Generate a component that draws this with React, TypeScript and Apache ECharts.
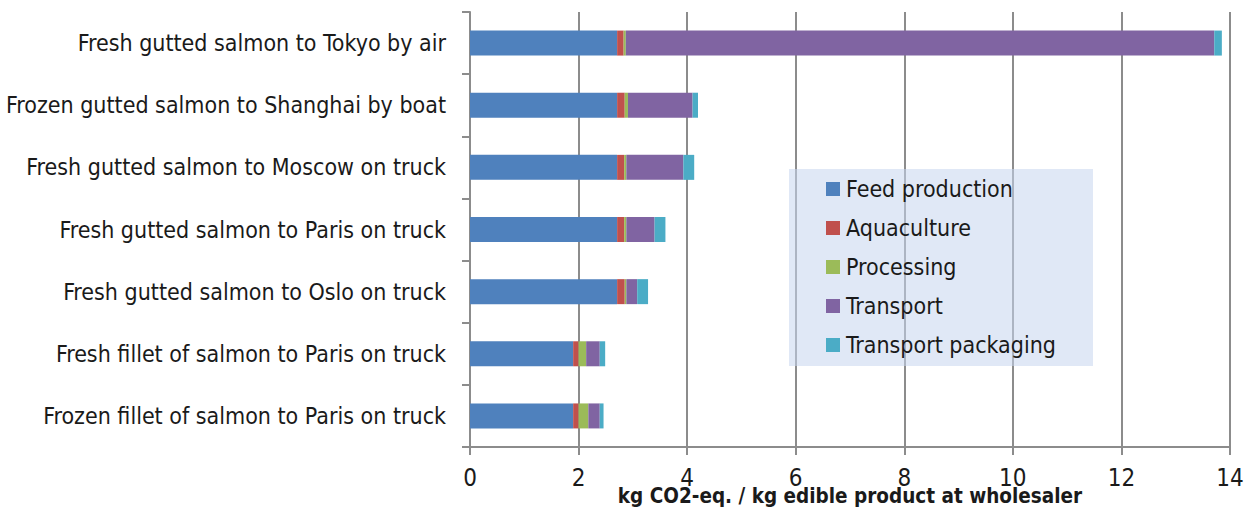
import React, { useEffect, useRef } from "react";
import * as echarts from "echarts";

const categories = [
  "Fresh gutted salmon to Tokyo by air",
  "Frozen gutted salmon to Shanghai by boat",
  "Fresh gutted salmon to Moscow on truck",
  "Fresh gutted salmon to Paris on truck",
  "Fresh gutted salmon to Oslo on truck",
  "Fresh fillet of salmon to Paris on truck",
  "Frozen fillet of salmon to Paris on truck",
];

const feedProduction = [2.71, 2.71, 2.71, 2.71, 2.71, 1.9, 1.9];
const aquaculture = [0.12, 0.14, 0.13, 0.13, 0.14, 0.1, 0.1];
const processing = [0.04, 0.06, 0.04, 0.04, 0.03, 0.14, 0.18];
const transport = [10.84, 1.19, 1.05, 0.52, 0.2, 0.25, 0.21];
const transportPackaging = [0.14, 0.1, 0.2, 0.2, 0.2, 0.1, 0.07];

const seriesNames = ["Feed production", "Aquaculture", "Processing", "Transport", "Transport packaging"];
const seriesData = [feedProduction, aquaculture, processing, transport, transportPackaging];
const colors = ["#4F81BD", "#C0504D", "#9BBB59", "#8064A2", "#4BACC6"];

const xTicks = { min: 0, max: 14, interval: 2 };
const axisName = "kg CO2-eq. / kg edible product at wholesaler";

const FONT = "'DejaVu Sans Condensed', 'Liberation Sans Narrow', 'Noto Sans', sans-serif";

export default function App() {
  const ref = useRef<HTMLDivElement>(null);
  useEffect(() => {
    document.body.style.margin = "0";
    if (!ref.current) return;
    const chart = echarts.init(ref.current, undefined, { renderer: "svg" });
    const gridColor = "#8c8c8c";
    chart.setOption({
      animation: false,
      backgroundColor: "#ffffff",
      textStyle: { fontFamily: FONT },
      grid: { left: 470, right: 16, top: 12, bottom: 63, outerBoundsMode: "none", containLabel: false },
      xAxis: {
        type: "value",
        min: xTicks.min,
        max: xTicks.max,
        interval: xTicks.interval,
        axisLine: { show: true, lineStyle: { color: gridColor, width: 2 } },
        axisTick: { show: true, length: 8, lineStyle: { color: gridColor, width: 2 } },
        splitLine: { show: true, lineStyle: { color: gridColor, width: 2 } },
        axisLabel: { color: "#1a1a1a", fontSize: 24, fontFamily: FONT, margin: 19 },
        name: axisName,
        nameLocation: "middle",
        nameGap: 38,
        nameMoveOverlap: false,
        nameTextStyle: { color: "#1a1a1a", fontSize: 20.5, fontWeight: "bold", fontFamily: FONT },
      },
      yAxis: {
        type: "category",
        data: categories,
        inverse: true,
        axisLine: { show: true, lineStyle: { color: gridColor, width: 2 } },
        axisTick: { show: true, length: 8, lineStyle: { color: gridColor, width: 2 } },
        axisLabel: { color: "#1a1a1a", fontSize: 23, fontFamily: FONT, margin: 24 },
      },
      legend: {
        orient: "vertical",
        left: 826,
        top: 176,
        padding: 0,
        itemWidth: 14,
        itemHeight: 14,
        itemGap: 13,
        icon: "rect",
        data: seriesNames,
        textStyle: { color: "#1a1a1a", fontSize: 23, fontFamily: FONT, lineHeight: 26, padding: [0, 0, 0, 1] },
        z: 5,
      },
      graphic: [
        {
          type: "rect",
          left: 789,
          top: 169,
          shape: { width: 304, height: 197 },
          style: { fill: "rgba(199,214,238,0.55)" },
          z: 3,
        },
      ],
      series: seriesNames.map((name, i) => ({
        name,
        type: "bar",
        stack: "total",
        barWidth: 25,
        data: seriesData[i],
        itemStyle: { color: colors[i] },
      })),
    });
    return () => chart.dispose();
  }, []);
  return <div ref={ref} style={{ width: 1246, height: 510 }} />;
}
